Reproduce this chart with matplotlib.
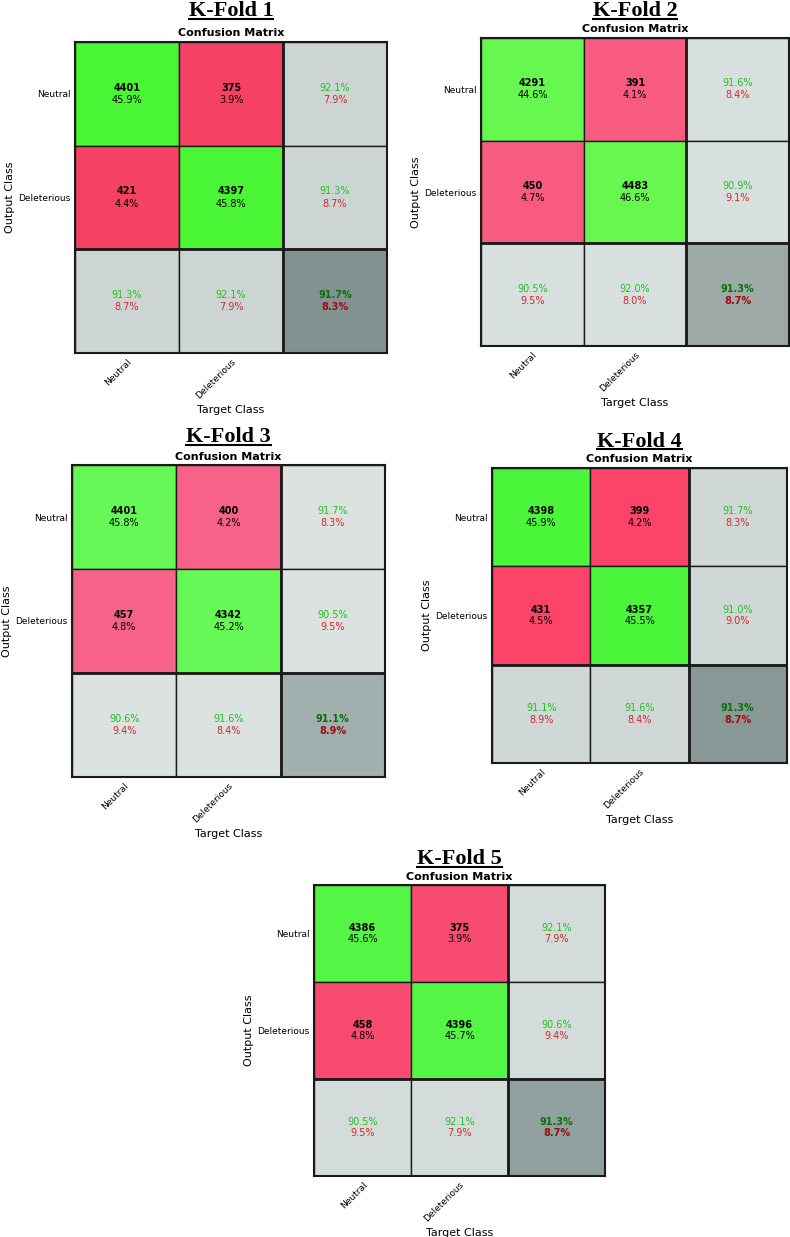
import matplotlib
matplotlib.use('Agg')
import matplotlib.pyplot as plt
from matplotlib.patches import Rectangle
from matplotlib.lines import Line2D
import numpy as np

# data: confusion matrices (rows = output class, cols = target class)
classes = ['Neutral', 'Deleterious']
fold_names = ['K-Fold 1', 'K-Fold 2', 'K-Fold 3', 'K-Fold 4', 'K-Fold 5']
fold1 = [[4401, 375], [421, 4397]]
fold2 = [[4291, 391], [450, 4483]]
fold3 = [[4401, 400], [457, 4342]]
fold4 = [[4398, 399], [431, 4357]]
fold5 = [[4386, 375], [458, 4396]]
folds = [fold1, fold2, fold3, fold4, fold5]

# cell colours per panel
green_cells = ['#4af535', '#66f84f', '#66f856', '#4af53a', '#55f545']
red_cells = ['#f54262', '#f75c80', '#f7628a', '#fb4467', '#f74b70']
grey_cells = ['#cdd5d4', '#d8e0df', '#dce2df', '#cfd8d7', '#d3dcdb']
dark_cells = ['#839291', '#9eaaa8', '#a1afae', '#889896', '#8fa09e']

W, H = 790, 1237
fig = plt.figure(figsize=(W / 100, H / 100), dpi=100)

# panel boxes in pixels: left, top, right, bottom
boxes = [(75, 42, 387, 353), (481, 38, 789, 346), (72, 465, 385, 777),
         (492, 468, 787, 763), (314, 885, 605, 1176)]
title_base = [16, 16, 442, 447, 864]


def fx(x):
    return x / W


def fy(y):
    return 1 - y / H


txt_green = '#22c022'
txt_red = '#d42a2a'


def draw_cm(ax, cm, cg, cr, cgrey, cdark):
    cm = np.array(cm)
    total = cm.sum()
    ax.set_xlim(0, 3)
    ax.set_ylim(3, 0)
    for i in range(3):
        for j in range(3):
            if i < 2 and j < 2:
                fc = cg if i == j else cr
            elif i == 2 and j == 2:
                fc = cdark
            else:
                fc = cgrey
            ax.add_patch(Rectangle((j, i), 1, 1, facecolor=fc,
                                   edgecolor='#1a1a1a', lw=1.0))
    for i in range(2):
        for j in range(2):
            ax.text(j + 0.5, i + 0.44, str(cm[i, j]), ha='center', va='center',
                    fontsize=7, fontweight='bold', color='black')
            ax.text(j + 0.5, i + 0.56, f'{100 * cm[i, j] / total:.1f}%',
                    ha='center', va='center', fontsize=7, color='black')
    # row precision (right column)
    for i in range(2):
        p = 100 * cm[i, i] / cm[i].sum()
        ax.text(2.5, i + 0.44, f'{p:.1f}%', ha='center', va='center',
                fontsize=7, color=txt_green)
        ax.text(2.5, i + 0.56, f'{100 - p:.1f}%', ha='center', va='center',
                fontsize=7, color=txt_red)
    # column recall (bottom row)
    for j in range(2):
        r = 100 * cm[j, j] / cm[:, j].sum()
        ax.text(j + 0.5, 2.44, f'{r:.1f}%', ha='center', va='center',
                fontsize=7, color=txt_green)
        ax.text(j + 0.5, 2.56, f'{100 - r:.1f}%', ha='center', va='center',
                fontsize=7, color=txt_red)
    acc = 100 * np.trace(cm) / total
    ax.text(2.5, 2.44, f'{acc:.1f}%', ha='center', va='center', fontsize=7,
            fontweight='bold', color='#0b700b')
    ax.text(2.5, 2.56, f'{100 - acc:.1f}%', ha='center', va='center',
            fontsize=7, fontweight='bold', color='#a00d0d')
    ax.axhline(2, color='#1a1a1a', lw=2)
    ax.axvline(2, color='#1a1a1a', lw=2)
    ax.set_xticks([0.5, 1.5])
    ax.set_xticklabels(classes, rotation=45, ha='right', va='top',
                       rotation_mode='anchor', fontsize=6.5)
    ax.set_yticks([0.5, 1.5])
    ax.set_yticklabels(classes, fontsize=6.5)
    ax.tick_params(length=0, pad=3)
    for s in ax.spines.values():
        s.set_linewidth(1.5)
        s.set_color('#1a1a1a')


titles = []
for k in range(5):
    l, t, r, b = boxes[k]
    ax = fig.add_axes([fx(l), fy(b), fx(r - l), (b - t) / H])
    draw_cm(ax, folds[k], green_cells[k], red_cells[k], grey_cells[k], dark_cells[k])
    cx = (l + r) / 2
    titles.append(fig.text(fx(cx), fy(title_base[k]), fold_names[k], ha='center',
                           va='baseline', fontsize=16, fontweight='bold',
                           family='Liberation Serif'))
    fig.text(fx(cx), fy(t - 8.5), 'Confusion Matrix', ha='center', va='center',
             fontsize=8, fontweight='bold')
    fig.text(fx(l - 65), fy((t + b) / 2), 'Output Class', ha='center', va='center',
             rotation=90, fontsize=8)
    fig.text(fx(cx), fy(b + 57), 'Target Class', ha='center', va='center', fontsize=8)

# underline the fold titles
fig.canvas.draw()
rend = fig.canvas.get_renderer()
for k, tx in enumerate(titles):
    bb = tx.get_window_extent(rend)
    yl = fy(title_base[k] + 2.5)
    fig.add_artist(Line2D([bb.x0 / W, bb.x1 / W], [yl, yl], color='black', lw=1.5))

fig.savefig('out.png', dpi=100)
